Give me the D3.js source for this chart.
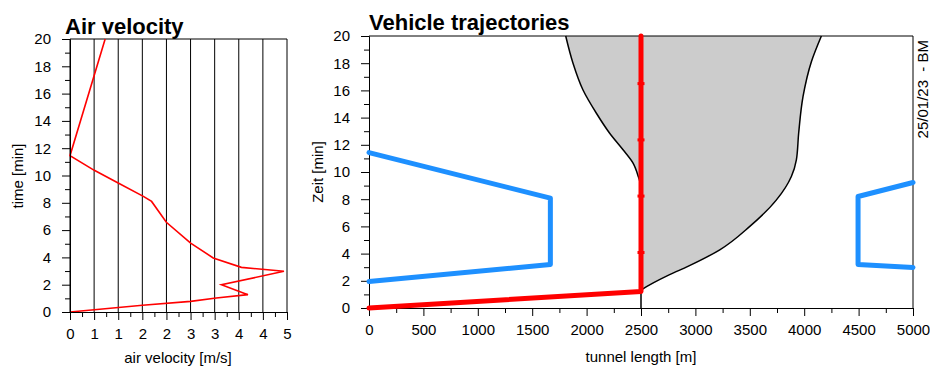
<!DOCTYPE html>
<html>
<head>
<meta charset="utf-8">
<script src="https://cdn.jsdelivr.net/npm/d3@7"></script>
<style>
  body { margin: 0; background: #fff; }
  svg { font-family: "Liberation Sans", Arial, sans-serif; }
  .tick text { font-size: 15px; fill: #000; }
  .tick line, .domain { stroke: #000; }
</style>
</head>
<body>
<div id="vis"></div>
<script>
const svgWidth = 930;
const svgHeight = 368;

// air velocity panel: time [min] vs velocity [m/s]
const airTime = [0, 0.17, 0.49, 0.78, 1.03, 1.27, 2.0, 2.98, 3.27, 3.96, 5.05, 6.57, 8.1, 8.47, 9.45, 10.38, 11.45, 20];
const airVel = [0, 0.56, 1.67, 2.78, 3.37, 4.1, 3.49, 4.93, 3.95, 3.3, 2.78, 2.22, 1.88, 1.69, 1.11, 0.56, 0, 0.81];
const airTicks = d3.range(10).map((i) => (5 * i) / 9);

// smoke zone boundaries (time, position)
const smokeLeftT = [0, 8.9, 9.67, 10.65, 11.63, 12.85, 14.32, 16.03, 18.0, 20];
const smokeLeftX = [2500, 2500, 2475, 2427, 2335, 2212, 2090, 1967, 1875, 1808];
const smokeRightT = [1.3, 1.4, 2.45, 3.06, 4.28, 6.0, 7.95, 9.67, 10.89, 12.85, 15.54, 18.11, 20];
const smokeRightX = [2500, 2518, 2763, 2931, 3224, 3500, 3745, 3882, 3928, 3949, 3989, 4066, 4158];

// vehicle trajectories
const redT = [0, 1.22, 20];
const redX = [0, 2500, 2500];
const redMarkT = [4.08, 8.23, 12.36, 16.5];
const blueLeftT = [11.43, 8.08, 3.2, 1.95];
const blueLeftX = [0, 1667, 1667, 0];
const blueRightT = [9.23, 8.2, 3.2, 2.98];
const blueRightX = [5000, 4495, 4495, 5000];

const svg = d3.select('#vis').append('svg').attr('width', svgWidth).attr('height', svgHeight);

const zip = (xs, ts) => xs.map((x, i) => [x, ts[i]]);

function styleAxis(g) {
  g.selectAll('.domain').attr('stroke-width', 1);
}

// ---------- left panel ----------
const x1 = d3.scaleLinear().domain([0, 5]).range([70, 287]);
const y1 = d3.scaleLinear().domain([0, 20]).range([312, 39]);

const left = svg.append('g');

// vertical grid
left
  .selectAll('.vgrid')
  .data(airTicks)
  .join('line')
  .attr('x1', (d) => x1(d))
  .attr('x2', (d) => x1(d))
  .attr('y1', y1(0))
  .attr('y2', y1(20))
  .attr('stroke', '#000');
left.append('line').attr('x1', x1(0)).attr('x2', x1(5)).attr('y1', y1(20)).attr('y2', y1(20)).attr('stroke', '#000');

left
  .append('path')
  .datum(zip(airVel, airTime))
  .attr('fill', 'none')
  .attr('stroke', 'red')
  .attr('stroke-width', 1.6)
  .attr('d', d3.line().x((d) => x1(d[0])).y((d) => y1(d[1])));

left
  .append('g')
  .attr('transform', `translate(0,${y1(0)})`)
  .call(d3.axisBottom(x1).tickValues(airTicks).tickFormat((d) => Math.round(d)).tickSize(8).tickSizeOuter(0).tickPadding(8))
  .call(styleAxis);
left
  .append('g')
  .attr('transform', `translate(0,${y1(0)})`)
  .call(d3.axisBottom(x1).tickValues(airTicks.slice(0, 9).map((d) => d + 5 / 18)).tickFormat('').tickSize(5).tickSizeOuter(0));
left
  .append('g')
  .attr('transform', `translate(${x1(0)},0)`)
  .call(d3.axisLeft(y1).tickValues(d3.range(0, 21, 2)).tickSize(8).tickSizeOuter(0).tickPadding(11))
  .call(styleAxis);
left
  .append('g')
  .attr('transform', `translate(${x1(0)},0)`)
  .call(d3.axisLeft(y1).tickValues(d3.range(1, 20, 2)).tickFormat('').tickSize(5).tickSizeOuter(0));

left.append('text').attr('x', 65).attr('y', 34).attr('font-size', 22).attr('font-weight', 'bold').text('Air velocity');
left
  .append('text')
  .attr('transform', `translate(23,176) rotate(-90)`)
  .attr('text-anchor', 'middle')
  .attr('font-size', 15)
  .text('time [min]');
left.append('text').attr('x', 178).attr('y', 363).attr('text-anchor', 'middle').attr('font-size', 15).text('air velocity [m/s]');

// ---------- right panel ----------
const x2 = d3.scaleLinear().domain([0, 5000]).range([369, 913]);
const y2 = d3.scaleLinear().domain([0, 20]).range([308, 36]);
const right = svg.append('g');

const leftEdge = zip(smokeLeftX, smokeLeftT);
const rightEdge = zip(smokeRightX, smokeRightT);
const edgeLine = d3.line().x((d) => x2(d[0])).y((d) => y2(d[1])).curve(d3.curveMonotoneY);

// fill: right edge upward, then left edge downward to the start of the right edge
const fillPts = rightEdge.concat(leftEdge.filter((d) => d[1] >= 1.3).reverse());
right
  .append('path')
  .datum(fillPts)
  .attr('fill', '#cccccc')
  .attr('stroke', 'none')
  .attr('d', d3.line().x((d) => x2(d[0])).y((d) => y2(d[1])).curve(d3.curveLinearClosed));

right.append('path').datum(leftEdge).attr('fill', 'none').attr('stroke', '#000').attr('stroke-width', 1.5).attr('d', edgeLine);
right.append('path').datum(rightEdge).attr('fill', 'none').attr('stroke', '#000').attr('stroke-width', 1.5).attr('d', edgeLine);

// frame
right.append('line').attr('x1', x2(0)).attr('x2', x2(5000)).attr('y1', y2(20)).attr('y2', y2(20)).attr('stroke', '#000');
right.append('line').attr('x1', x2(5000)).attr('x2', x2(5000)).attr('y1', y2(20)).attr('y2', y2(0)).attr('stroke', '#000');

right
  .append('g')
  .attr('transform', `translate(0,${y2(0)})`)
  .call(d3.axisBottom(x2).tickValues(d3.range(0, 5001, 500)).tickFormat(d3.format('d')).tickSize(8).tickSizeOuter(0).tickPadding(8))
  .call(styleAxis);
right
  .append('g')
  .attr('transform', `translate(0,${y2(0)})`)
  .call(d3.axisBottom(x2).tickValues(d3.range(250, 5000, 500)).tickFormat('').tickSize(5).tickSizeOuter(0));
right
  .append('g')
  .attr('transform', `translate(${x2(0)},0)`)
  .call(d3.axisLeft(y2).tickValues(d3.range(0, 21, 2)).tickSize(8).tickSizeOuter(0).tickPadding(11))
  .call(styleAxis);
right
  .append('g')
  .attr('transform', `translate(${x2(0)},0)`)
  .call(d3.axisLeft(y2).tickValues(d3.range(1, 20, 2)).tickFormat('').tickSize(5).tickSizeOuter(0));

const trajLine = d3.line().x((d) => x2(d[0])).y((d) => y2(d[1]));
[zip(blueLeftX, blueLeftT), zip(blueRightX, blueRightT)].forEach((pts) => {
  right
    .append('path')
    .datum(pts)
    .attr('fill', 'none')
    .attr('stroke', '#1e90ff')
    .attr('stroke-width', 5)
    .attr('stroke-linecap', 'round')
    .attr('stroke-linejoin', 'round')
    .attr('d', trajLine);
});
right
  .append('path')
  .datum(zip(redX, redT))
  .attr('fill', 'none')
  .attr('stroke', '#ff0000')
  .attr('stroke-width', 5)
  .attr('stroke-linecap', 'round')
  .attr('stroke-linejoin', 'round')
  .attr('d', trajLine);
right
  .selectAll('.mark')
  .data(redMarkT)
  .join('rect')
  .attr('x', x2(2500) - 3.5)
  .attr('y', (d) => y2(d) - 1.5)
  .attr('width', 7)
  .attr('height', 3)
  .attr('fill', '#ff0000');

right.append('text').attr('x', 369).attr('y', 30).attr('font-size', 22).attr('font-weight', 'bold').text('Vehicle trajectories');
right
  .append('text')
  .attr('transform', `translate(323,172) rotate(-90)`)
  .attr('text-anchor', 'middle')
  .attr('font-size', 15)
  .text('Zeit [min]');
right.append('text').attr('x', 641).attr('y', 362).attr('text-anchor', 'middle').attr('font-size', 15).text('tunnel length [m]');
right
  .append('text')
  .attr('transform', `translate(928,40) rotate(-90)`)
  .attr('text-anchor', 'end')
  .attr('font-size', 15)
  .attr('xml:space', 'preserve')
  .style('white-space', 'pre')
  .text('25/01/23  - BM');
</script>
</body>
</html>
